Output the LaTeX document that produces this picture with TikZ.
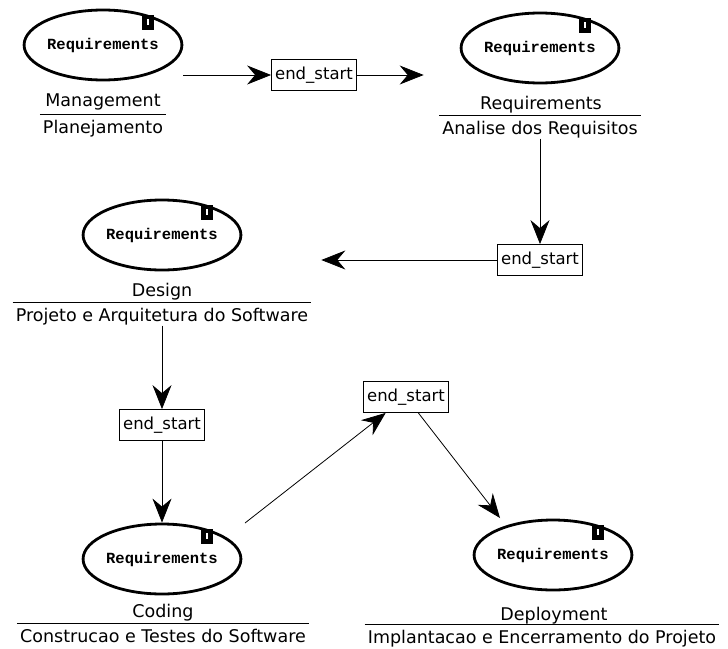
\documentclass[tikz,border=0pt]{standalone}
\usepackage{fontspec}
\setmainfont{DejaVu Sans}
\newfontfamily\reqfont{Liberation Mono}
\usetikzlibrary{arrows.meta, positioning, calc, shapes.geometric}

\begin{document}
\begin{tikzpicture}[x=1pt, y=-1pt,
    proc/.style={draw, ellipse, line width=2.8pt, minimum width=142pt,
                 minimum height=70pt, inner sep=0pt,
                 font=\reqfont\bfseries\fontsize{15.5}{16}\selectfont},
    dmark/.style={draw, fill=white, line width=4.5pt, minimum width=7pt,
                  minimum height=10.5pt, inner sep=0pt},
    link/.style={draw, line width=0.8pt, minimum width=85pt, minimum height=31pt,
                 inner sep=2pt, font=\fontsize{16.5}{18}\selectfont},
    lbl/.style={inner xsep=3pt, inner ysep=0pt, text height=13pt, text depth=4pt,
                font=\fontsize{17.5}{20}\selectfont},
    flow/.style={->, line width=0.8pt},
    >={Stealth[length=24pt, width=19pt, inset=8pt]},
]
\useasboundingbox (0,0) rectangle (728,648);

% phases
\node[proc] (P1) at (103,45)  {Requirements};
\node[proc] (P2) at (540,48)  {Requirements};
\node[proc] (P3) at (162,235) {Requirements};
\node[proc] (P4) at (162,559) {Requirements};
\node[proc] (P5) at (553,555) {Requirements};
\foreach \n in {1,...,5}
  \node[dmark] (D\n) at ($(P\n.center)+(45,-23)$) {};

% names and descriptions
\node[lbl] (t1) at (103,102) {Management};
\node[lbl] (u1) at (103,129) {Planejamento};
\node[lbl] (t2) at (541,105) {Requirements};
\node[lbl] (u2) at (540,130) {Analise dos Requisitos};
\node[lbl] (t3) at (162,292) {Design};
\node[lbl] (u3) at (162,317) {Projeto e Arquitetura do Software};
\node[lbl] (t4) at (163,613) {Coding};
\node[lbl] (u4) at (163,638) {Construcao e Testes do Software};
\node[lbl] (t5) at (554,616) {Deployment};
\node[lbl] (u5) at (542,639) {Implantacao e Encerramento do Projeto};
\foreach \n in {1,...,5}
  \draw[line width=0.8pt] ([yshift=15pt]u\n.west) -- ([yshift=15pt]u\n.east);

% dependencies
\node[link] (L1) at (314,75)  {end\_start};
\node[link] (L2) at (540,260) {end\_start};
\node[link] (L3) at (162,425) {end\_start};
\node[link] (L4) at (406,397) {end\_start};
\coordinate (c4) at (245,523);
\coordinate (c5) at (500,518);

\draw[flow] (P1.east |- L1) -- (L1);
\draw[flow, shorten >=36pt] (L1) -- (L1 -| P2.west);
\draw[flow] (u2) -- (L2);
\draw[flow, shorten >=79pt] (L2) -- (L2 -| P3.east);
\draw[flow] (u3) -- (L3);
\draw[flow] (L3) -- (P4);
\draw[flow] (c4) -- (L4);
\draw[flow] (L4) -- (c5);
\end{tikzpicture}
\end{document}
